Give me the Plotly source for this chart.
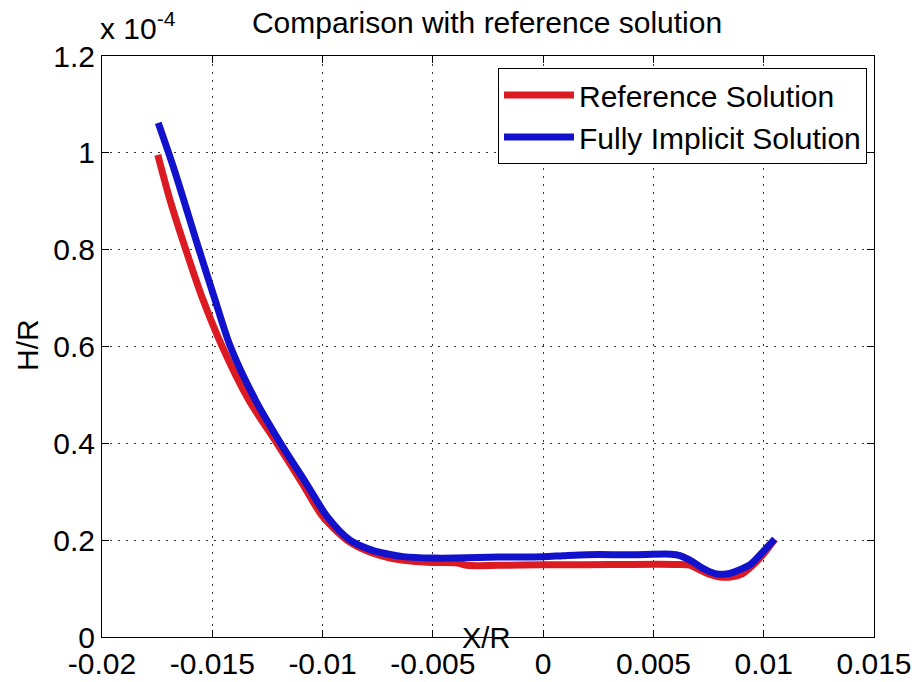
import plotly.graph_objects as go

# ---- data (H/R in units of 1e-4) ----
ref_x = [-0.01747, -0.01690, -0.01620, -0.01545, -0.01455, -0.01335, -0.01207,
         -0.01093, -0.00998, -0.00889, -0.00800, -0.00694, -0.00600, -0.00500, -0.00390,
         -0.00345, -0.00200, 0.00000, 0.00200, 0.00400, 0.00600, 0.00660, 0.00700,
         0.00750, 0.00800, 0.00850, 0.00900, 0.00950, 0.01000, 0.01050]
ref_y = [0.996, 0.900, 0.800, 0.700, 0.600, 0.490, 0.400,
         0.318, 0.248, 0.200, 0.178, 0.163, 0.157, 0.154, 0.153,
         0.148, 0.148, 0.149, 0.149, 0.150, 0.150, 0.149, 0.141,
         0.130, 0.124, 0.124, 0.130, 0.148, 0.172, 0.202]

imp_x = [-0.01745, -0.01673, -0.01560, -0.01490, -0.01418, -0.01305, -0.01190, -0.01075,
         -0.00978, -0.00876, -0.00780, -0.00700, -0.00635, -0.00500, -0.00400, -0.00200,
         0.00000, 0.00090, 0.00200, 0.00400, 0.00580, 0.00620, 0.00680, 0.00720,
         0.00780, 0.00830, 0.00880, 0.00940, 0.01000, 0.01050]
imp_y = [1.062, 0.966, 0.800, 0.700, 0.600, 0.490, 0.400, 0.318,
         0.248, 0.200, 0.180, 0.171, 0.166, 0.163, 0.163, 0.165,
         0.166, 0.168, 0.170, 0.170, 0.171, 0.168, 0.155, 0.143,
         0.131, 0.130, 0.137, 0.150, 0.178, 0.202]

x_ticks = [-0.02, -0.015, -0.01, -0.005, 0, 0.005, 0.01, 0.015]
x_labels = ["-0.02", "-0.015", "-0.01", "-0.005", "0", "0.005", "0.01", "0.015"]
y_ticks = [0, 0.2, 0.4, 0.6, 0.8, 1.0, 1.2]
y_labels = ["0", "0.2", "0.4", "0.6", "0.8", "1", "1.2"]

names = ["Reference Solution", "Fully Implicit Solution"]
colors = ["#dc1a22", "#1212cc"]

FONT = "Liberation Sans, Arial, sans-serif"
W, H = 919, 682
L, R, T, B = 102, 45, 56, 45
pw, ph = W - L - R, H - T - B

def px2paper_x(px):
    return (px - L) / pw

def px2paper_y(py):
    return (H - B - py) / ph

fig = go.Figure()
fig.add_trace(go.Scatter(x=ref_x, y=ref_y, mode="lines", name=names[0],
                         line=dict(color=colors[0], width=7, shape="spline", smoothing=0.8)))
fig.add_trace(go.Scatter(x=imp_x, y=imp_y, mode="lines", name=names[1],
                         line=dict(color=colors[1], width=7, shape="spline", smoothing=0.8)))

axis_common = dict(showline=True, linecolor="black", linewidth=1, mirror="ticks",
                   ticks="inside", ticklen=7, tickcolor="black", tickwidth=1,
                   showgrid=True, gridcolor="#333333", gridwidth=1, griddash="2px,6px",
                   zeroline=False, automargin=False,
                   tickfont=dict(family=FONT, size=30, color="black"))

fig.update_xaxes(range=[-0.02, 0.015], tickvals=x_ticks, ticktext=x_labels, **axis_common)
fig.update_yaxes(range=[0, 1.2], tickvals=y_ticks, ticktext=y_labels, **axis_common)

fig.update_layout(
    width=W, height=H,
    margin=dict(l=L, r=R, t=T, b=B),
    paper_bgcolor="white", plot_bgcolor="white",
    font=dict(family=FONT, color="black"),
    title=dict(text="Comparison with reference solution", x=487 / W, xanchor="center",
               y=1 - 22 / H, yanchor="middle", yref="container",
               font=dict(family=FONT, size=30, color="black")),
    legend=dict(x=px2paper_x(867), y=px2paper_y(68), xanchor="right", yanchor="top",
                bgcolor="white", bordercolor="black", borderwidth=1,
                font=dict(family=FONT, size=30, color="black"), itemwidth=70,
                tracegroupgap=0),
    showlegend=True,
    annotations=[
        dict(text="x 10<sup>-4</sup>", xref="paper", yref="paper",
             x=px2paper_x(98), y=px2paper_y(47), xanchor="left", yanchor="bottom",
             showarrow=False, font=dict(family=FONT, size=30, color="black")),
        dict(text="H/R", xref="paper", yref="paper", textangle=-90,
             x=px2paper_x(27), y=px2paper_y(345), xanchor="center", yanchor="middle",
             showarrow=False, font=dict(family=FONT, size=30, color="black")),
        dict(text="X/R", xref="paper", yref="paper",
             x=px2paper_x(486), y=px2paper_y(638), xanchor="center", yanchor="middle",
             showarrow=False, font=dict(family=FONT, size=29, color="black")),
    ],
)

fig.write_html("out.html")
